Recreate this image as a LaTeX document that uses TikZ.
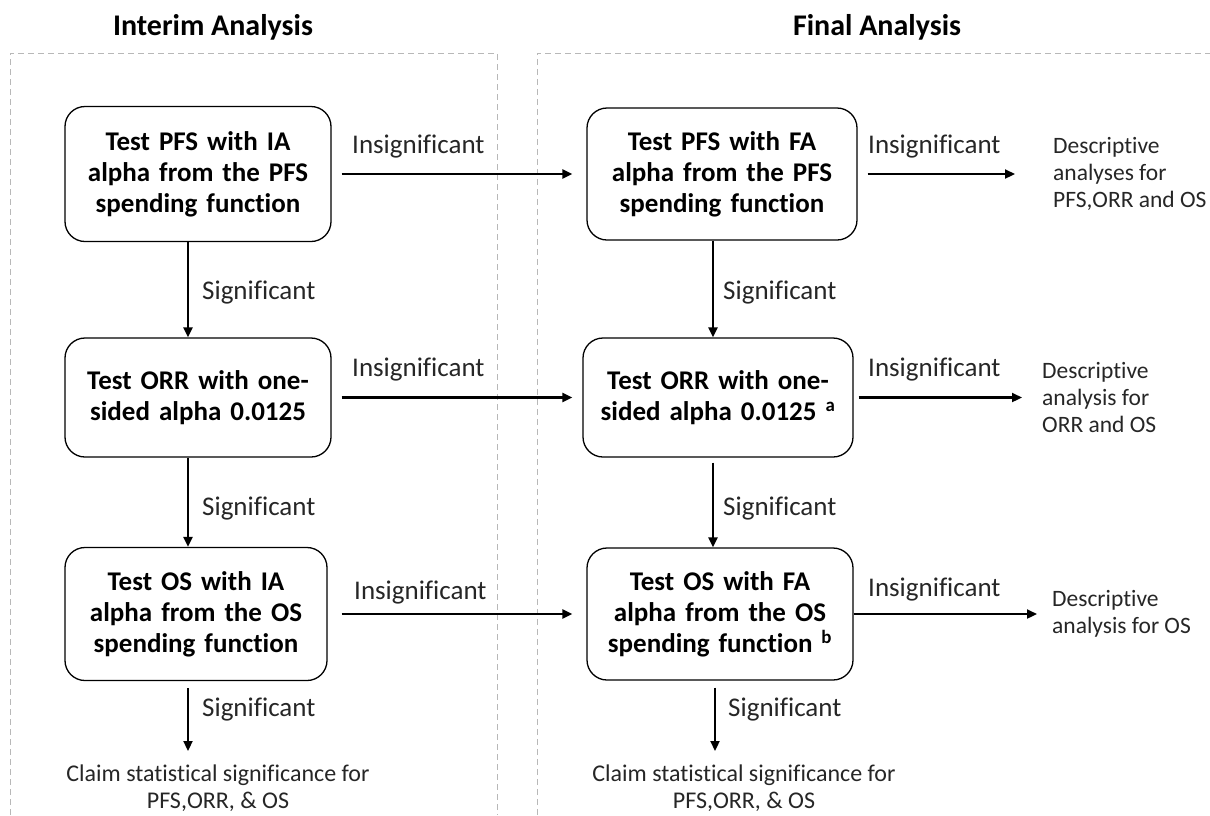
\documentclass[tikz,border=0pt]{standalone}
\usepackage{fontspec}
\setmainfont{Carlito}[Ligatures={NoCommon}]
\usetikzlibrary{arrows.meta}
\begin{document}
\begin{tikzpicture}[x=1pt,y=-1pt,
  box/.style={draw, line width=1.3pt, rounded corners=20pt, align=center, inner sep=0pt, font=\fontsize{27}{31}\selectfont\bfseries},
  lbl/.style={anchor=west, inner sep=0pt, text=black!85, font=\fontsize{27}{30}\selectfont},
  desc/.style={anchor=west, inner sep=0pt, align=left, text=black!85, font=\fontsize{23.5}{27}\selectfont},
  claim/.style={inner sep=0pt, align=center, text=black!85, font=\fontsize{24}{27}\selectfont},
  ttl/.style={inner sep=0pt, font=\fontsize{30}{34}\selectfont\bfseries},
  arr/.style={line width=2.2pt, -{Triangle[length=10pt,width=9pt]}},
  frame/.style={draw=black!28, line width=1pt, dash pattern=on 6pt off 4pt}]
\useasboundingbox (0,0) rectangle (1210,815);

% frames and titles
\draw[frame] (10,815) -- (10,53) -- (497,53) -- (497,815);
\draw[frame] (537,815) -- (537,53) -- (1212,53);
\node[ttl] (t1) at (213,27) {Interim Analysis};
\node[ttl] (t2) at (877,27) {Final Analysis};

% boxes
\node[box, text width=266pt, minimum height=135pt] (L1) at (198,174) {Test PFS with IA\\alpha from the PFS\\spending function};
\node[box, text width=266pt, minimum height=119pt] (L2) at (198,397.5) {Test ORR with one-\\sided alpha 0.0125};
\node[box, text width=262pt, minimum height=133pt] (L3) at (196,614) {Test OS with IA\\alpha from the OS\\spending function};
\node[box, text width=270pt, minimum height=132pt] (R1) at (722,174) {Test PFS with FA\\alpha from the PFS\\spending function};
\node[box, text width=270pt, minimum height=119pt] (R2) at (718,397.5) {Test ORR with one-\\sided alpha 0.0125 \textsuperscript{a}};
\node[box, text width=266pt, minimum height=132pt] (R3) at (720,614) {Test OS with FA\\alpha from the OS\\spending function \textsuperscript{b}};

% end texts
\node[desc] (D1) at (1053,174) {Descriptive\\analyses for\\PFS,ORR and OS};
\node[desc] (D2) at (1042,397.5) {Descriptive\\analysis for\\ORR and OS};
\node[desc] (D3) at (1052,614) {Descriptive\\analysis for OS};
\node[claim] (CL) at (218,788.5) {Claim statistical significance for\\PFS,ORR, \& OS};
\node[claim] (CR) at (744,788.5) {Claim statistical significance for\\PFS,ORR, \& OS};

\coordinate (cL) at (188,0);
\coordinate (cR) at (713,0);
\coordinate (eL) at (188,751);
\coordinate (eR) at (715,751);

% vertical arrows
\draw[arr] (L1.south -| cL) -- (L2.north -| cL);
\draw[arr] (L2.south -| cL) -- (L3.north -| cL);
\draw[arr, shorten <=7pt] (L3.south -| cL) -- (eL);
\draw[arr] (R1.south -| cR) -- (R2.north -| cR);
\draw[arr, shorten <=5pt] (R2.south -| cR) -- (R3.north -| cR);
\draw[arr, shorten <=7pt] (R3.south -| eR) -- (eR);

% horizontal arrows
\draw[arr, shorten <=10pt, shorten >=14pt] (L1.east) -- (R1.west);
\draw[arr, shorten <=10pt, shorten >=10pt] (L2.east) -- (R2.west);
\draw[arr, shorten <=14pt, shorten >=14pt] (L3.east) -- (R3.west);
\draw[arr, shorten <=10pt, shorten >=38pt] (R1.east) -- (D1.west);
\draw[arr, shorten <=5pt, shorten >=20pt] (R2.east) -- (D2.west);
\draw[arr, shorten >=15pt] (R3.east) -- (D3.west);

% labels
\node[lbl] (s1) at (202,293) {Significant};
\node[lbl] (s2) at (202,509) {Significant};
\node[lbl] (s3) at (202,710) {Significant};
\node[lbl] (s4) at (723,293) {Significant};
\node[lbl] (s5) at (723,509) {Significant};
\node[lbl] (s6) at (728,710) {Significant};
\node[lbl] (n1) at (352,147) {Insignificant};
\node[lbl] (n2) at (352,370) {Insignificant};
\node[lbl] (n3) at (354,593) {Insignificant};
\node[lbl] (n4) at (868,147) {Insignificant};
\node[lbl] (n5) at (868,370) {Insignificant};
\node[lbl] (n6) at (868,590) {Insignificant};
\end{tikzpicture}
\end{document}
